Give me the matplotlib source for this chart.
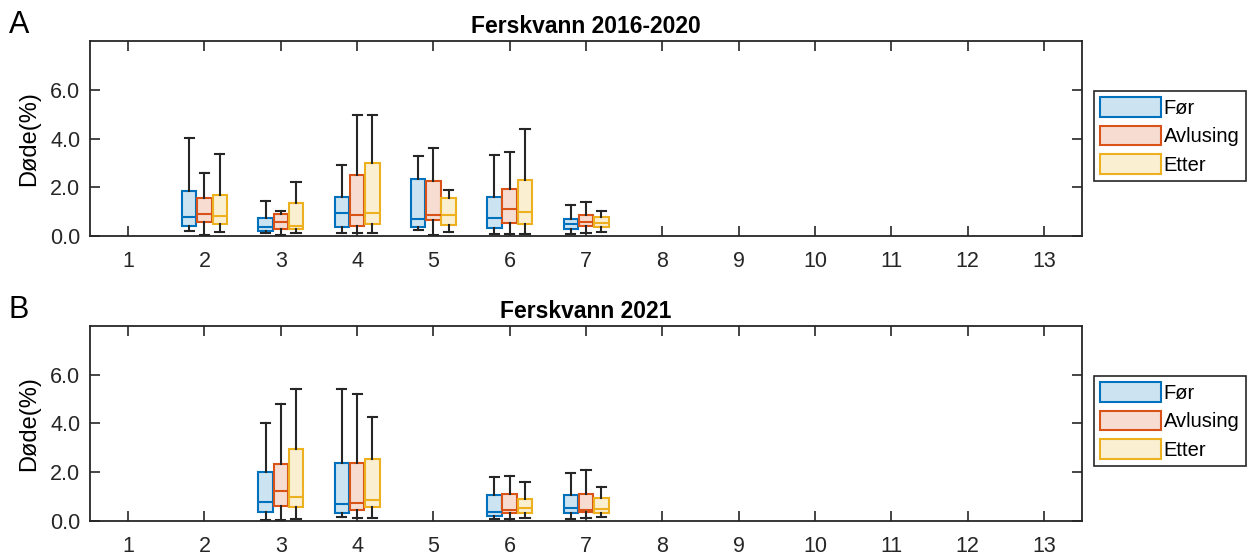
import matplotlib
matplotlib.use("Agg")
import matplotlib.pyplot as plt
from matplotlib.patches import Patch

# --- data: whisker low, q1, median, q3, whisker high per group ---
SERIES = ["Før", "Avlusing", "Etter"]
EDGE = ["#0072BD", "#D95319", "#EDB120"]
FACE = ["#CCE3F2", "#F7DDD1", "#FBEFD2"]
INK = "#262626"

A_TITLE = "Ferskvann 2016-2020"
A_GROUPS = [2, 3, 4, 5, 6, 7]
A_FOR_LO = [0.20, 0.11, 0.12, 0.25, 0.08, 0.10]
A_FOR_Q1 = [0.41, 0.22, 0.38, 0.36, 0.32, 0.27]
A_FOR_MED = [0.79, 0.37, 0.95, 0.69, 0.73, 0.49]
A_FOR_Q3 = [1.86, 0.75, 1.60, 2.33, 1.62, 0.70]
A_FOR_HI = [4.01, 1.45, 2.93, 3.29, 3.34, 1.29]
A_AVL_LO = [0.05, 0.03, 0.12, 0.03, 0.08, 0.12]
A_AVL_Q1 = [0.59, 0.30, 0.42, 0.64, 0.55, 0.42]
A_AVL_MED = [0.90, 0.58, 0.88, 0.85, 1.11, 0.58]
A_AVL_Q3 = [1.56, 0.90, 2.49, 2.27, 1.92, 0.85]
A_AVL_HI = [2.59, 1.04, 4.96, 3.63, 3.44, 1.38]
A_ETT_LO = [0.16, 0.14, 0.12, 0.16, 0.08, 0.18]
A_ETT_Q1 = [0.49, 0.27, 0.51, 0.44, 0.51, 0.36]
A_ETT_MED = [0.82, 0.41, 0.95, 0.85, 0.99, 0.53]
A_ETT_Q3 = [1.67, 1.37, 3.01, 1.56, 2.30, 0.77]
A_ETT_HI = [3.37, 2.22, 4.96, 1.89, 4.40, 1.01]

B_TITLE = "Ferskvann 2021"
B_GROUPS = [3, 4, 6, 7]
B_FOR_LO = [0.05, 0.16, 0.07, 0.08]
B_FOR_Q1 = [0.36, 0.32, 0.22, 0.32]
B_FOR_MED = [0.78, 0.69, 0.38, 0.53]
B_FOR_Q3 = [2.00, 2.36, 1.07, 1.08]
B_FOR_HI = [4.01, 5.43, 1.79, 1.95]
B_AVL_LO = [0.05, 0.12, 0.07, 0.14]
B_AVL_Q1 = [0.63, 0.44, 0.34, 0.36]
B_AVL_MED = [1.23, 0.75, 0.45, 0.45]
B_AVL_Q3 = [2.32, 2.38, 1.12, 1.11]
B_AVL_HI = [4.81, 5.23, 1.83, 2.09]
B_ETT_LO = [0.07, 0.12, 0.11, 0.16]
B_ETT_Q1 = [0.59, 0.59, 0.33, 0.34]
B_ETT_MED = [0.99, 0.86, 0.52, 0.49]
B_ETT_Q3 = [2.97, 2.56, 0.89, 0.93]
B_ETT_HI = [5.41, 4.27, 1.62, 1.40]

PANEL_A = [
    (A_FOR_LO, A_FOR_Q1, A_FOR_MED, A_FOR_Q3, A_FOR_HI),
    (A_AVL_LO, A_AVL_Q1, A_AVL_MED, A_AVL_Q3, A_AVL_HI),
    (A_ETT_LO, A_ETT_Q1, A_ETT_MED, A_ETT_Q3, A_ETT_HI),
]
PANEL_B = [
    (B_FOR_LO, B_FOR_Q1, B_FOR_MED, B_FOR_Q3, B_FOR_HI),
    (B_AVL_LO, B_AVL_Q1, B_AVL_MED, B_AVL_Q3, B_AVL_HI),
    (B_ETT_LO, B_ETT_Q1, B_ETT_MED, B_ETT_Q3, B_ETT_HI),
]

plt.rcParams.update({
    "font.family": ["Liberation Sans", "DejaVu Sans"],
    "font.size": 15.5,
    "axes.edgecolor": INK, "axes.linewidth": 1.3,
    "xtick.color": INK, "ytick.color": INK,
    "xtick.direction": "in", "ytick.direction": "in",
    "xtick.top": True, "ytick.right": True,
    "xtick.major.size": 7, "ytick.major.size": 7,
    "xtick.major.width": 1.2, "ytick.major.width": 1.2,
})

fig = plt.figure(figsize=(12.47, 5.59), dpi=100)
ax_a = fig.add_axes([0.0722, 0.5778, 0.7955, 0.3488])
ax_b = fig.add_axes([0.0722, 0.0680, 0.7955, 0.3488])

OFFSETS = [-0.2, 0.0, 0.2]
BOX_W = 0.19


def draw_panel(ax, title, groups, panel):
    for i, (lo, q1, med, q3, hi) in enumerate(panel):
        stats = [dict(whislo=a, q1=b, med=c, q3=d, whishi=e)
                 for a, b, c, d, e in zip(lo, q1, med, q3, hi)]
        pos = [g + OFFSETS[i] for g in groups]
        ax.bxp(stats, positions=pos, widths=BOX_W, showfliers=False,
               patch_artist=True, capwidths=0.12,
               boxprops=dict(facecolor=FACE[i], edgecolor=EDGE[i], linewidth=1.5),
               medianprops=dict(color=EDGE[i], linewidth=1.5),
               whiskerprops=dict(color=INK, linewidth=1.5),
               capprops=dict(color=INK, linewidth=1.5),
               manage_ticks=False)
    ax.set_xlim(0.5, 13.5)
    ax.set_ylim(0, 8)
    ax.set_xticks(range(1, 14))
    ax.set_yticks([0, 2, 4, 6])
    ax.set_yticklabels([f"{v:.1f}" for v in [0, 2, 4, 6]])
    ax.tick_params(axis="x", pad=11)
    ax.tick_params(axis="y", pad=7)
    ax.set_ylabel("Døde(%)", labelpad=7, fontsize=17)
    ax.set_title(title, fontsize=16.5, fontweight="bold", pad=6)
    handles = [Patch(facecolor=FACE[i], edgecolor=EDGE[i], linewidth=1.5, label=s)
               for i, s in enumerate(SERIES)]
    leg = ax.legend(handles=handles, loc="upper left", bbox_to_anchor=(1.012, 0.745),
                    borderaxespad=0, fancybox=False, edgecolor=INK, framealpha=1,
                    handlelength=3.0, handleheight=1.1, handletextpad=0.15,
                    labelspacing=0.4, borderpad=0.32, fontsize=14.5)
    leg.get_frame().set_linewidth(1.2)


draw_panel(ax_a, A_TITLE, A_GROUPS, PANEL_A)
draw_panel(ax_b, B_TITLE, B_GROUPS, PANEL_B)

fig.text(0.007, 0.955, "A", fontsize=22, va="center")
fig.text(0.007, 0.445, "B", fontsize=22, va="center")

fig.savefig("out.png", dpi=100)
